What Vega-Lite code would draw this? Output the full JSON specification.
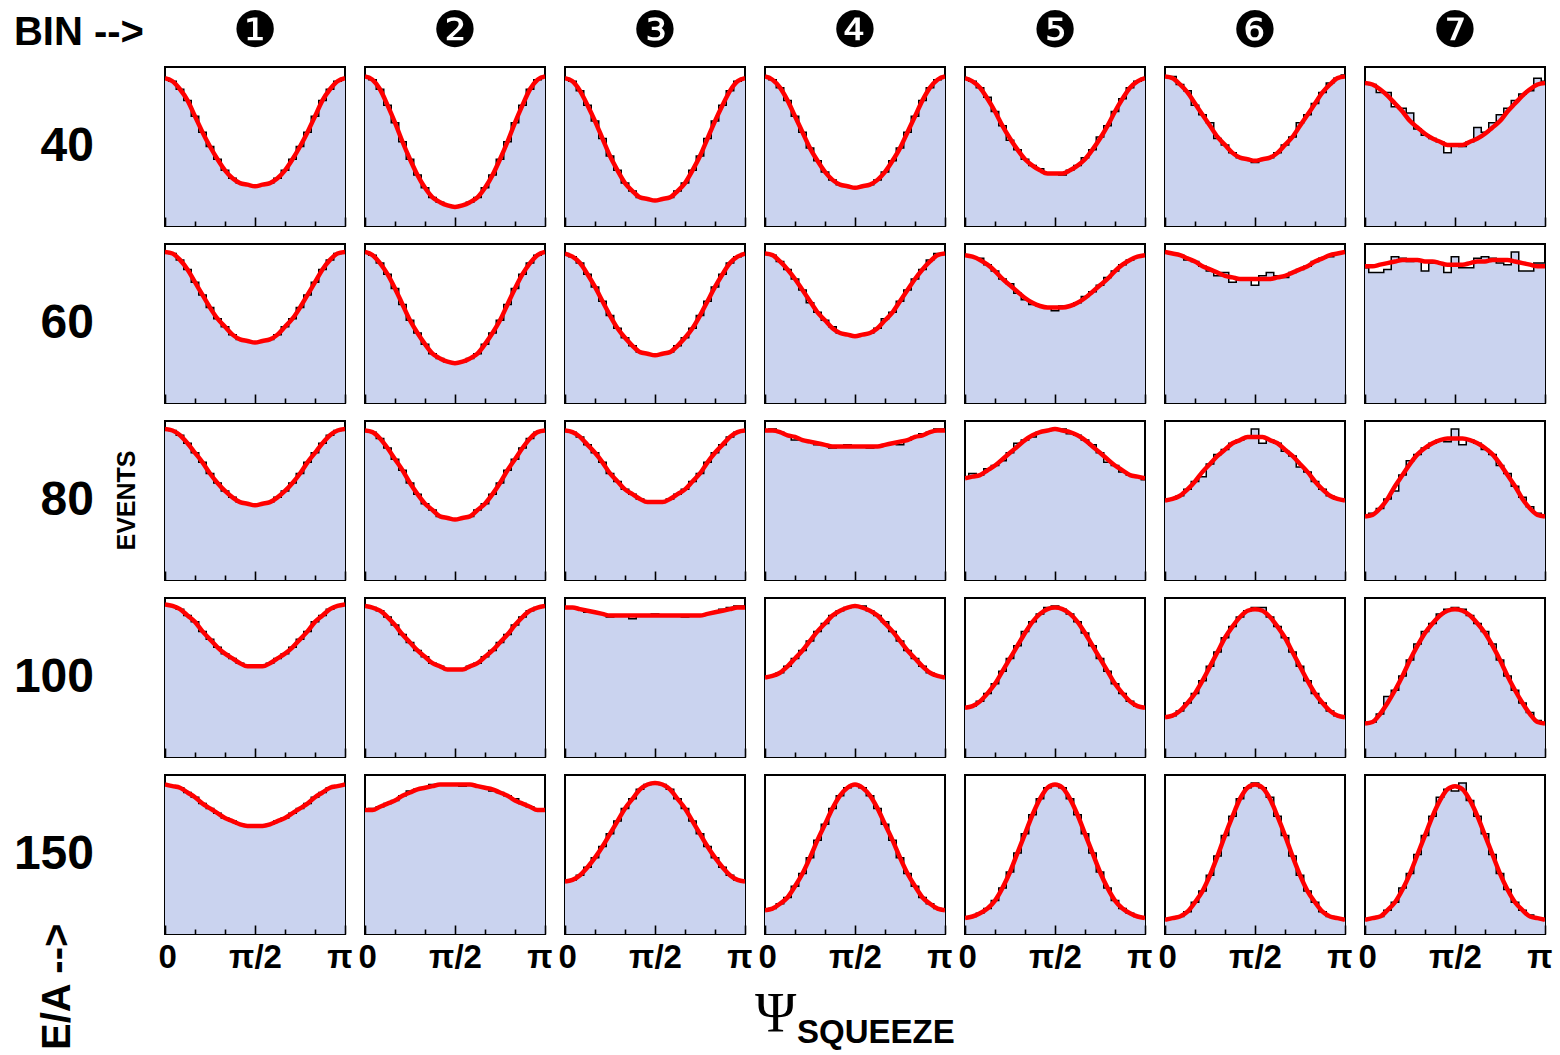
{
  "$schema": "https://vega.github.io/schema/vega-lite/v6.json",
  "background": "white",
  "padding": {"left": 13, "top": 7, "right": 6, "bottom": 4},
  "config": {
    "view": {"stroke": "black", "strokeWidth": 2},
    "font": "Liberation Sans",
    "title": {"color": "black"}
  },
  "data": {"values": [
{"e":40,"b":1,"i":0,"h":93,"f":93},{"e":40,"b":1,"i":1,"h":91,"f":91},{"e":40,"b":1,"i":2,"h":86,"f":86},{"e":40,"b":1,"i":3,"h":79,"f":79},{"e":40,"b":1,"i":4,"h":69,"f":69},{"e":40,"b":1,"i":5,"h":59,"f":59},{"e":40,"b":1,"i":6,"h":50,"f":50},{"e":40,"b":1,"i":7,"h":42,"f":42},{"e":40,"b":1,"i":8,"h":35,"f":35},{"e":40,"b":1,"i":9,"h":30,"f":30},{"e":40,"b":1,"i":10,"h":27,"f":27},{"e":40,"b":1,"i":11,"h":26,"f":26},{"e":40,"b":1,"i":12,"h":25,"f":25},{"e":40,"b":1,"i":13,"h":26,"f":26},{"e":40,"b":1,"i":14,"h":27,"f":27},{"e":40,"b":1,"i":15,"h":30,"f":30},{"e":40,"b":1,"i":16,"h":35,"f":35},{"e":40,"b":1,"i":17,"h":42,"f":42},{"e":40,"b":1,"i":18,"h":50,"f":50},{"e":40,"b":1,"i":19,"h":59,"f":59},{"e":40,"b":1,"i":20,"h":69,"f":69},{"e":40,"b":1,"i":21,"h":79,"f":79},{"e":40,"b":1,"i":22,"h":86,"f":86},{"e":40,"b":1,"i":23,"h":91,"f":91},{"e":40,"b":1,"i":24,"h":93,"f":93},
{"e":40,"b":2,"i":0,"h":94,"f":94},{"e":40,"b":2,"i":1,"h":92,"f":92},{"e":40,"b":2,"i":2,"h":86,"f":86},{"e":40,"b":2,"i":3,"h":76,"f":76},{"e":40,"b":2,"i":4,"h":65,"f":65},{"e":40,"b":2,"i":5,"h":53,"f":53},{"e":40,"b":2,"i":6,"h":42,"f":42},{"e":40,"b":2,"i":7,"h":32,"f":32},{"e":40,"b":2,"i":8,"h":24,"f":24},{"e":40,"b":2,"i":9,"h":18,"f":18},{"e":40,"b":2,"i":10,"h":15,"f":15},{"e":40,"b":2,"i":11,"h":13,"f":13},{"e":40,"b":2,"i":12,"h":12,"f":12},{"e":40,"b":2,"i":13,"h":13,"f":13},{"e":40,"b":2,"i":14,"h":15,"f":15},{"e":40,"b":2,"i":15,"h":18,"f":18},{"e":40,"b":2,"i":16,"h":24,"f":24},{"e":40,"b":2,"i":17,"h":32,"f":32},{"e":40,"b":2,"i":18,"h":42,"f":42},{"e":40,"b":2,"i":19,"h":53,"f":53},{"e":40,"b":2,"i":20,"h":65,"f":65},{"e":40,"b":2,"i":21,"h":76,"f":76},{"e":40,"b":2,"i":22,"h":86,"f":86},{"e":40,"b":2,"i":23,"h":92,"f":92},{"e":40,"b":2,"i":24,"h":94,"f":94},
{"e":40,"b":3,"i":0,"h":93,"f":93},{"e":40,"b":3,"i":1,"h":91,"f":91},{"e":40,"b":3,"i":2,"h":85,"f":85},{"e":40,"b":3,"i":3,"h":76,"f":76},{"e":40,"b":3,"i":4,"h":66,"f":66},{"e":40,"b":3,"i":5,"h":55,"f":55},{"e":40,"b":3,"i":6,"h":44,"f":44},{"e":40,"b":3,"i":7,"h":35,"f":35},{"e":40,"b":3,"i":8,"h":27,"f":27},{"e":40,"b":3,"i":9,"h":22,"f":22},{"e":40,"b":3,"i":10,"h":18,"f":18},{"e":40,"b":3,"i":11,"h":17,"f":17},{"e":40,"b":3,"i":12,"h":16,"f":16},{"e":40,"b":3,"i":13,"h":17,"f":17},{"e":40,"b":3,"i":14,"h":18,"f":18},{"e":40,"b":3,"i":15,"h":22,"f":22},{"e":40,"b":3,"i":16,"h":27,"f":27},{"e":40,"b":3,"i":17,"h":35,"f":35},{"e":40,"b":3,"i":18,"h":44,"f":44},{"e":40,"b":3,"i":19,"h":55,"f":55},{"e":40,"b":3,"i":20,"h":66,"f":66},{"e":40,"b":3,"i":21,"h":76,"f":76},{"e":40,"b":3,"i":22,"h":85,"f":85},{"e":40,"b":3,"i":23,"h":91,"f":91},{"e":40,"b":3,"i":24,"h":93,"f":93},
{"e":40,"b":4,"i":0,"h":94,"f":94},{"e":40,"b":4,"i":1,"h":92,"f":92},{"e":40,"b":4,"i":2,"h":87,"f":87},{"e":40,"b":4,"i":3,"h":79,"f":79},{"e":40,"b":4,"i":4,"h":69,"f":69},{"e":40,"b":4,"i":5,"h":59,"f":59},{"e":40,"b":4,"i":6,"h":49,"f":49},{"e":40,"b":4,"i":7,"h":41,"f":41},{"e":40,"b":4,"i":8,"h":34,"f":34},{"e":40,"b":4,"i":9,"h":29,"f":29},{"e":40,"b":4,"i":10,"h":26,"f":26},{"e":40,"b":4,"i":11,"h":25,"f":25},{"e":40,"b":4,"i":12,"h":24,"f":24},{"e":40,"b":4,"i":13,"h":25,"f":25},{"e":40,"b":4,"i":14,"h":26,"f":26},{"e":40,"b":4,"i":15,"h":29,"f":29},{"e":40,"b":4,"i":16,"h":34,"f":34},{"e":40,"b":4,"i":17,"h":41,"f":41},{"e":40,"b":4,"i":18,"h":49,"f":49},{"e":40,"b":4,"i":19,"h":59,"f":59},{"e":40,"b":4,"i":20,"h":69,"f":69},{"e":40,"b":4,"i":21,"h":79,"f":79},{"e":40,"b":4,"i":22,"h":87,"f":87},{"e":40,"b":4,"i":23,"h":92,"f":92},{"e":40,"b":4,"i":24,"h":94,"f":94},
{"e":40,"b":5,"i":0,"h":93,"f":93},{"e":40,"b":5,"i":1,"h":91,"f":91},{"e":40,"b":5,"i":2,"h":87,"f":87},{"e":40,"b":5,"i":3,"h":81,"f":80},{"e":40,"b":5,"i":4,"h":72,"f":72},{"e":40,"b":5,"i":5,"h":63,"f":63},{"e":40,"b":5,"i":6,"h":54,"f":55},{"e":40,"b":5,"i":7,"h":48,"f":48},{"e":40,"b":5,"i":8,"h":42,"f":42},{"e":40,"b":5,"i":9,"h":38,"f":38},{"e":40,"b":5,"i":10,"h":36,"f":35},{"e":40,"b":5,"i":11,"h":33,"f":33},{"e":40,"b":5,"i":12,"h":33,"f":33},{"e":40,"b":5,"i":13,"h":32,"f":33},{"e":40,"b":5,"i":14,"h":35,"f":35},{"e":40,"b":5,"i":15,"h":38,"f":38},{"e":40,"b":5,"i":16,"h":43,"f":42},{"e":40,"b":5,"i":17,"h":48,"f":48},{"e":40,"b":5,"i":18,"h":56,"f":55},{"e":40,"b":5,"i":19,"h":63,"f":63},{"e":40,"b":5,"i":20,"h":72,"f":72},{"e":40,"b":5,"i":21,"h":80,"f":80},{"e":40,"b":5,"i":22,"h":87,"f":87},{"e":40,"b":5,"i":23,"h":91,"f":91},{"e":40,"b":5,"i":24,"h":93,"f":93},
{"e":40,"b":6,"i":0,"h":94,"f":94},{"e":40,"b":6,"i":1,"h":94,"f":93},{"e":40,"b":6,"i":2,"h":89,"f":89},{"e":40,"b":6,"i":3,"h":85,"f":84},{"e":40,"b":6,"i":4,"h":76,"f":77},{"e":40,"b":6,"i":5,"h":70,"f":70},{"e":40,"b":6,"i":6,"h":65,"f":63},{"e":40,"b":6,"i":7,"h":55,"f":56},{"e":40,"b":6,"i":8,"h":51,"f":51},{"e":40,"b":6,"i":9,"h":46,"f":46},{"e":40,"b":6,"i":10,"h":43,"f":43},{"e":40,"b":6,"i":11,"h":42,"f":42},{"e":40,"b":6,"i":12,"h":40,"f":41},{"e":40,"b":6,"i":13,"h":42,"f":42},{"e":40,"b":6,"i":14,"h":43,"f":43},{"e":40,"b":6,"i":15,"h":46,"f":46},{"e":40,"b":6,"i":16,"h":51,"f":51},{"e":40,"b":6,"i":17,"h":56,"f":56},{"e":40,"b":6,"i":18,"h":65,"f":63},{"e":40,"b":6,"i":19,"h":70,"f":70},{"e":40,"b":6,"i":20,"h":77,"f":77},{"e":40,"b":6,"i":21,"h":84,"f":84},{"e":40,"b":6,"i":22,"h":90,"f":89},{"e":40,"b":6,"i":23,"h":93,"f":93},{"e":40,"b":6,"i":24,"h":95,"f":94},
{"e":40,"b":7,"i":0,"h":90,"f":90},{"e":40,"b":7,"i":1,"h":89,"f":89},{"e":40,"b":7,"i":2,"h":84,"f":86},{"e":40,"b":7,"i":3,"h":84,"f":82},{"e":40,"b":7,"i":4,"h":75,"f":77},{"e":40,"b":7,"i":5,"h":74,"f":72},{"e":40,"b":7,"i":6,"h":71,"f":66},{"e":40,"b":7,"i":7,"h":61,"f":62},{"e":40,"b":7,"i":8,"h":57,"f":58},{"e":40,"b":7,"i":9,"h":55,"f":55},{"e":40,"b":7,"i":10,"h":53,"f":53},{"e":40,"b":7,"i":11,"h":46,"f":51},{"e":40,"b":7,"i":12,"h":51,"f":51},{"e":40,"b":7,"i":13,"h":50,"f":51},{"e":40,"b":7,"i":14,"h":53,"f":53},{"e":40,"b":7,"i":15,"h":62,"f":55},{"e":40,"b":7,"i":16,"h":59,"f":58},{"e":40,"b":7,"i":17,"h":65,"f":62},{"e":40,"b":7,"i":18,"h":70,"f":66},{"e":40,"b":7,"i":19,"h":74,"f":72},{"e":40,"b":7,"i":20,"h":79,"f":77},{"e":40,"b":7,"i":21,"h":83,"f":82},{"e":40,"b":7,"i":22,"h":85,"f":86},{"e":40,"b":7,"i":23,"h":93,"f":89},{"e":40,"b":7,"i":24,"h":91,"f":90},
{"e":60,"b":1,"i":0,"h":95,"f":95},{"e":60,"b":1,"i":1,"h":94,"f":94},{"e":60,"b":1,"i":2,"h":90,"f":90},{"e":60,"b":1,"i":3,"h":84,"f":84},{"e":60,"b":1,"i":4,"h":76,"f":76},{"e":60,"b":1,"i":5,"h":68,"f":68},{"e":60,"b":1,"i":6,"h":60,"f":60},{"e":60,"b":1,"i":7,"h":53,"f":53},{"e":60,"b":1,"i":8,"h":48,"f":48},{"e":60,"b":1,"i":9,"h":43,"f":43},{"e":60,"b":1,"i":10,"h":40,"f":40},{"e":60,"b":1,"i":11,"h":39,"f":39},{"e":60,"b":1,"i":12,"h":38,"f":38},{"e":60,"b":1,"i":13,"h":39,"f":39},{"e":60,"b":1,"i":14,"h":40,"f":40},{"e":60,"b":1,"i":15,"h":43,"f":43},{"e":60,"b":1,"i":16,"h":48,"f":48},{"e":60,"b":1,"i":17,"h":53,"f":53},{"e":60,"b":1,"i":18,"h":60,"f":60},{"e":60,"b":1,"i":19,"h":68,"f":68},{"e":60,"b":1,"i":20,"h":76,"f":76},{"e":60,"b":1,"i":21,"h":84,"f":84},{"e":60,"b":1,"i":22,"h":90,"f":90},{"e":60,"b":1,"i":23,"h":94,"f":94},{"e":60,"b":1,"i":24,"h":95,"f":95},
{"e":60,"b":2,"i":0,"h":95,"f":95},{"e":60,"b":2,"i":1,"h":93,"f":93},{"e":60,"b":2,"i":2,"h":88,"f":88},{"e":60,"b":2,"i":3,"h":81,"f":81},{"e":60,"b":2,"i":4,"h":72,"f":72},{"e":60,"b":2,"i":5,"h":62,"f":62},{"e":60,"b":2,"i":6,"h":52,"f":52},{"e":60,"b":2,"i":7,"h":44,"f":44},{"e":60,"b":2,"i":8,"h":37,"f":37},{"e":60,"b":2,"i":9,"h":31,"f":31},{"e":60,"b":2,"i":10,"h":28,"f":28},{"e":60,"b":2,"i":11,"h":26,"f":26},{"e":60,"b":2,"i":12,"h":25,"f":25},{"e":60,"b":2,"i":13,"h":26,"f":26},{"e":60,"b":2,"i":14,"h":28,"f":28},{"e":60,"b":2,"i":15,"h":31,"f":31},{"e":60,"b":2,"i":16,"h":37,"f":37},{"e":60,"b":2,"i":17,"h":44,"f":44},{"e":60,"b":2,"i":18,"h":52,"f":52},{"e":60,"b":2,"i":19,"h":62,"f":62},{"e":60,"b":2,"i":20,"h":72,"f":72},{"e":60,"b":2,"i":21,"h":81,"f":81},{"e":60,"b":2,"i":22,"h":88,"f":88},{"e":60,"b":2,"i":23,"h":93,"f":93},{"e":60,"b":2,"i":24,"h":95,"f":95},
{"e":60,"b":3,"i":0,"h":94,"f":94},{"e":60,"b":3,"i":1,"h":92,"f":92},{"e":60,"b":3,"i":2,"h":88,"f":88},{"e":60,"b":3,"i":3,"h":81,"f":81},{"e":60,"b":3,"i":4,"h":73,"f":73},{"e":60,"b":3,"i":5,"h":64,"f":64},{"e":60,"b":3,"i":6,"h":55,"f":55},{"e":60,"b":3,"i":7,"h":47,"f":47},{"e":60,"b":3,"i":8,"h":41,"f":41},{"e":60,"b":3,"i":9,"h":36,"f":36},{"e":60,"b":3,"i":10,"h":32,"f":32},{"e":60,"b":3,"i":11,"h":31,"f":31},{"e":60,"b":3,"i":12,"h":30,"f":30},{"e":60,"b":3,"i":13,"h":31,"f":31},{"e":60,"b":3,"i":14,"h":32,"f":32},{"e":60,"b":3,"i":15,"h":36,"f":36},{"e":60,"b":3,"i":16,"h":41,"f":41},{"e":60,"b":3,"i":17,"h":47,"f":47},{"e":60,"b":3,"i":18,"h":55,"f":55},{"e":60,"b":3,"i":19,"h":64,"f":64},{"e":60,"b":3,"i":20,"h":73,"f":73},{"e":60,"b":3,"i":21,"h":81,"f":81},{"e":60,"b":3,"i":22,"h":88,"f":88},{"e":60,"b":3,"i":23,"h":92,"f":92},{"e":60,"b":3,"i":24,"h":94,"f":94},
{"e":60,"b":4,"i":0,"h":94,"f":94},{"e":60,"b":4,"i":1,"h":93,"f":93},{"e":60,"b":4,"i":2,"h":89,"f":89},{"e":60,"b":4,"i":3,"h":84,"f":84},{"e":60,"b":4,"i":4,"h":78,"f":78},{"e":60,"b":4,"i":5,"h":71,"f":71},{"e":60,"b":4,"i":6,"h":63,"f":64},{"e":60,"b":4,"i":7,"h":57,"f":57},{"e":60,"b":4,"i":8,"h":52,"f":52},{"e":60,"b":4,"i":9,"h":48,"f":47},{"e":60,"b":4,"i":10,"h":44,"f":44},{"e":60,"b":4,"i":11,"h":43,"f":43},{"e":60,"b":4,"i":12,"h":42,"f":42},{"e":60,"b":4,"i":13,"h":43,"f":43},{"e":60,"b":4,"i":14,"h":44,"f":44},{"e":60,"b":4,"i":15,"h":47,"f":47},{"e":60,"b":4,"i":16,"h":53,"f":52},{"e":60,"b":4,"i":17,"h":57,"f":57},{"e":60,"b":4,"i":18,"h":64,"f":64},{"e":60,"b":4,"i":19,"h":71,"f":71},{"e":60,"b":4,"i":20,"h":78,"f":78},{"e":60,"b":4,"i":21,"h":84,"f":84},{"e":60,"b":4,"i":22,"h":90,"f":89},{"e":60,"b":4,"i":23,"h":94,"f":93},{"e":60,"b":4,"i":24,"h":94,"f":94},
{"e":60,"b":5,"i":0,"h":93,"f":93},{"e":60,"b":5,"i":1,"h":92,"f":92},{"e":60,"b":5,"i":2,"h":91,"f":90},{"e":60,"b":5,"i":3,"h":87,"f":87},{"e":60,"b":5,"i":4,"h":83,"f":83},{"e":60,"b":5,"i":5,"h":78,"f":78},{"e":60,"b":5,"i":6,"h":75,"f":74},{"e":60,"b":5,"i":7,"h":69,"f":70},{"e":60,"b":5,"i":8,"h":65,"f":66},{"e":60,"b":5,"i":9,"h":62,"f":63},{"e":60,"b":5,"i":10,"h":61,"f":61},{"e":60,"b":5,"i":11,"h":60,"f":60},{"e":60,"b":5,"i":12,"h":58,"f":60},{"e":60,"b":5,"i":13,"h":61,"f":60},{"e":60,"b":5,"i":14,"h":61,"f":61},{"e":60,"b":5,"i":15,"h":63,"f":63},{"e":60,"b":5,"i":16,"h":67,"f":66},{"e":60,"b":5,"i":17,"h":70,"f":70},{"e":60,"b":5,"i":18,"h":74,"f":74},{"e":60,"b":5,"i":19,"h":79,"f":78},{"e":60,"b":5,"i":20,"h":83,"f":83},{"e":60,"b":5,"i":21,"h":87,"f":87},{"e":60,"b":5,"i":22,"h":90,"f":90},{"e":60,"b":5,"i":23,"h":92,"f":92},{"e":60,"b":5,"i":24,"h":93,"f":93},
{"e":60,"b":6,"i":0,"h":95,"f":95},{"e":60,"b":6,"i":1,"h":94,"f":94},{"e":60,"b":6,"i":2,"h":93,"f":93},{"e":60,"b":6,"i":3,"h":90,"f":91},{"e":60,"b":6,"i":4,"h":89,"f":89},{"e":60,"b":6,"i":5,"h":86,"f":86},{"e":60,"b":6,"i":6,"h":83,"f":84},{"e":60,"b":6,"i":7,"h":80,"f":82},{"e":60,"b":6,"i":8,"h":82,"f":80},{"e":60,"b":6,"i":9,"h":76,"f":79},{"e":60,"b":6,"i":10,"h":78,"f":78},{"e":60,"b":6,"i":11,"h":78,"f":78},{"e":60,"b":6,"i":12,"h":74,"f":78},{"e":60,"b":6,"i":13,"h":80,"f":78},{"e":60,"b":6,"i":14,"h":82,"f":78},{"e":60,"b":6,"i":15,"h":80,"f":79},{"e":60,"b":6,"i":16,"h":79,"f":80},{"e":60,"b":6,"i":17,"h":82,"f":82},{"e":60,"b":6,"i":18,"h":84,"f":84},{"e":60,"b":6,"i":19,"h":86,"f":86},{"e":60,"b":6,"i":20,"h":89,"f":89},{"e":60,"b":6,"i":21,"h":91,"f":91},{"e":60,"b":6,"i":22,"h":92,"f":93},{"e":60,"b":6,"i":23,"h":94,"f":94},{"e":60,"b":6,"i":24,"h":95,"f":95},
{"e":60,"b":7,"i":0,"h":85,"f":86},{"e":60,"b":7,"i":1,"h":82,"f":86},{"e":60,"b":7,"i":2,"h":82,"f":87},{"e":60,"b":7,"i":3,"h":84,"f":88},{"e":60,"b":7,"i":4,"h":92,"f":89},{"e":60,"b":7,"i":5,"h":91,"f":90},{"e":60,"b":7,"i":6,"h":89,"f":90},{"e":60,"b":7,"i":7,"h":90,"f":90},{"e":60,"b":7,"i":8,"h":83,"f":89},{"e":60,"b":7,"i":9,"h":88,"f":89},{"e":60,"b":7,"i":10,"h":88,"f":88},{"e":60,"b":7,"i":11,"h":82,"f":87},{"e":60,"b":7,"i":12,"h":92,"f":87},{"e":60,"b":7,"i":13,"h":85,"f":87},{"e":60,"b":7,"i":14,"h":85,"f":88},{"e":60,"b":7,"i":15,"h":91,"f":89},{"e":60,"b":7,"i":16,"h":92,"f":89},{"e":60,"b":7,"i":17,"h":91,"f":90},{"e":60,"b":7,"i":18,"h":88,"f":90},{"e":60,"b":7,"i":19,"h":87,"f":90},{"e":60,"b":7,"i":20,"h":95,"f":89},{"e":60,"b":7,"i":21,"h":83,"f":88},{"e":60,"b":7,"i":22,"h":83,"f":87},{"e":60,"b":7,"i":23,"h":88,"f":86},{"e":60,"b":7,"i":24,"h":88,"f":86},
{"e":80,"b":1,"i":0,"h":95,"f":95},{"e":80,"b":1,"i":1,"h":94,"f":94},{"e":80,"b":1,"i":2,"h":91,"f":91},{"e":80,"b":1,"i":3,"h":86,"f":86},{"e":80,"b":1,"i":4,"h":80,"f":80},{"e":80,"b":1,"i":5,"h":74,"f":74},{"e":80,"b":1,"i":6,"h":67,"f":67},{"e":80,"b":1,"i":7,"h":61,"f":61},{"e":80,"b":1,"i":8,"h":56,"f":56},{"e":80,"b":1,"i":9,"h":52,"f":52},{"e":80,"b":1,"i":10,"h":49,"f":49},{"e":80,"b":1,"i":11,"h":48,"f":48},{"e":80,"b":1,"i":12,"h":47,"f":47},{"e":80,"b":1,"i":13,"h":48,"f":48},{"e":80,"b":1,"i":14,"h":49,"f":49},{"e":80,"b":1,"i":15,"h":52,"f":52},{"e":80,"b":1,"i":16,"h":56,"f":56},{"e":80,"b":1,"i":17,"h":61,"f":61},{"e":80,"b":1,"i":18,"h":67,"f":67},{"e":80,"b":1,"i":19,"h":74,"f":74},{"e":80,"b":1,"i":20,"h":80,"f":80},{"e":80,"b":1,"i":21,"h":86,"f":86},{"e":80,"b":1,"i":22,"h":91,"f":91},{"e":80,"b":1,"i":23,"h":94,"f":94},{"e":80,"b":1,"i":24,"h":95,"f":95},
{"e":80,"b":2,"i":0,"h":94,"f":94},{"e":80,"b":2,"i":1,"h":93,"f":93},{"e":80,"b":2,"i":2,"h":89,"f":89},{"e":80,"b":2,"i":3,"h":83,"f":83},{"e":80,"b":2,"i":4,"h":76,"f":76},{"e":80,"b":2,"i":5,"h":69,"f":69},{"e":80,"b":2,"i":6,"h":61,"f":61},{"e":80,"b":2,"i":7,"h":54,"f":54},{"e":80,"b":2,"i":8,"h":48,"f":48},{"e":80,"b":2,"i":9,"h":44,"f":44},{"e":80,"b":2,"i":10,"h":40,"f":40},{"e":80,"b":2,"i":11,"h":39,"f":39},{"e":80,"b":2,"i":12,"h":38,"f":38},{"e":80,"b":2,"i":13,"h":39,"f":39},{"e":80,"b":2,"i":14,"h":40,"f":40},{"e":80,"b":2,"i":15,"h":44,"f":44},{"e":80,"b":2,"i":16,"h":48,"f":48},{"e":80,"b":2,"i":17,"h":54,"f":54},{"e":80,"b":2,"i":18,"h":61,"f":61},{"e":80,"b":2,"i":19,"h":69,"f":69},{"e":80,"b":2,"i":20,"h":76,"f":76},{"e":80,"b":2,"i":21,"h":83,"f":83},{"e":80,"b":2,"i":22,"h":89,"f":89},{"e":80,"b":2,"i":23,"h":93,"f":93},{"e":80,"b":2,"i":24,"h":94,"f":94},
{"e":80,"b":3,"i":0,"h":94,"f":94},{"e":80,"b":3,"i":1,"h":93,"f":93},{"e":80,"b":3,"i":2,"h":90,"f":90},{"e":80,"b":3,"i":3,"h":85,"f":85},{"e":80,"b":3,"i":4,"h":80,"f":80},{"e":80,"b":3,"i":5,"h":74,"f":74},{"e":80,"b":3,"i":6,"h":67,"f":67},{"e":80,"b":3,"i":7,"h":62,"f":62},{"e":80,"b":3,"i":8,"h":57,"f":57},{"e":80,"b":3,"i":9,"h":54,"f":54},{"e":80,"b":3,"i":10,"h":51,"f":51},{"e":80,"b":3,"i":11,"h":49,"f":49},{"e":80,"b":3,"i":12,"h":49,"f":49},{"e":80,"b":3,"i":13,"h":49,"f":49},{"e":80,"b":3,"i":14,"h":51,"f":51},{"e":80,"b":3,"i":15,"h":54,"f":54},{"e":80,"b":3,"i":16,"h":57,"f":57},{"e":80,"b":3,"i":17,"h":62,"f":62},{"e":80,"b":3,"i":18,"h":67,"f":67},{"e":80,"b":3,"i":19,"h":74,"f":74},{"e":80,"b":3,"i":20,"h":80,"f":80},{"e":80,"b":3,"i":21,"h":85,"f":85},{"e":80,"b":3,"i":22,"h":90,"f":90},{"e":80,"b":3,"i":23,"h":93,"f":93},{"e":80,"b":3,"i":24,"h":94,"f":94},
{"e":80,"b":4,"i":0,"h":94,"f":94},{"e":80,"b":4,"i":1,"h":95,"f":94},{"e":80,"b":4,"i":2,"h":93,"f":93},{"e":80,"b":4,"i":3,"h":91,"f":91},{"e":80,"b":4,"i":4,"h":88,"f":90},{"e":80,"b":4,"i":5,"h":88,"f":88},{"e":80,"b":4,"i":6,"h":87,"f":87},{"e":80,"b":4,"i":7,"h":85,"f":86},{"e":80,"b":4,"i":8,"h":85,"f":85},{"e":80,"b":4,"i":9,"h":83,"f":84},{"e":80,"b":4,"i":10,"h":84,"f":84},{"e":80,"b":4,"i":11,"h":85,"f":84},{"e":80,"b":4,"i":12,"h":84,"f":84},{"e":80,"b":4,"i":13,"h":84,"f":84},{"e":80,"b":4,"i":14,"h":83,"f":84},{"e":80,"b":4,"i":15,"h":84,"f":84},{"e":80,"b":4,"i":16,"h":85,"f":85},{"e":80,"b":4,"i":17,"h":86,"f":86},{"e":80,"b":4,"i":18,"h":85,"f":87},{"e":80,"b":4,"i":19,"h":88,"f":88},{"e":80,"b":4,"i":20,"h":90,"f":90},{"e":80,"b":4,"i":21,"h":92,"f":91},{"e":80,"b":4,"i":22,"h":93,"f":93},{"e":80,"b":4,"i":23,"h":95,"f":94},{"e":80,"b":4,"i":24,"h":95,"f":94},
{"e":80,"b":5,"i":0,"h":64,"f":64},{"e":80,"b":5,"i":1,"h":67,"f":65},{"e":80,"b":5,"i":2,"h":66,"f":66},{"e":80,"b":5,"i":3,"h":70,"f":69},{"e":80,"b":5,"i":4,"h":72,"f":72},{"e":80,"b":5,"i":5,"h":75,"f":76},{"e":80,"b":5,"i":6,"h":80,"f":80},{"e":80,"b":5,"i":7,"h":86,"f":84},{"e":80,"b":5,"i":8,"h":88,"f":88},{"e":80,"b":5,"i":9,"h":90,"f":91},{"e":80,"b":5,"i":10,"h":93,"f":93},{"e":80,"b":5,"i":11,"h":94,"f":94},{"e":80,"b":5,"i":12,"h":95,"f":95},{"e":80,"b":5,"i":13,"h":95,"f":94},{"e":80,"b":5,"i":14,"h":92,"f":93},{"e":80,"b":5,"i":15,"h":91,"f":91},{"e":80,"b":5,"i":16,"h":88,"f":88},{"e":80,"b":5,"i":17,"h":85,"f":84},{"e":80,"b":5,"i":18,"h":80,"f":80},{"e":80,"b":5,"i":19,"h":74,"f":76},{"e":80,"b":5,"i":20,"h":72,"f":72},{"e":80,"b":5,"i":21,"h":68,"f":69},{"e":80,"b":5,"i":22,"h":66,"f":66},{"e":80,"b":5,"i":23,"h":65,"f":65},{"e":80,"b":5,"i":24,"h":63,"f":64},
{"e":80,"b":6,"i":0,"h":50,"f":50},{"e":80,"b":6,"i":1,"h":51,"f":51},{"e":80,"b":6,"i":2,"h":53,"f":53},{"e":80,"b":6,"i":3,"h":57,"f":57},{"e":80,"b":6,"i":4,"h":62,"f":62},{"e":80,"b":6,"i":5,"h":65,"f":68},{"e":80,"b":6,"i":6,"h":73,"f":73},{"e":80,"b":6,"i":7,"h":79,"f":78},{"e":80,"b":6,"i":8,"h":82,"f":82},{"e":80,"b":6,"i":9,"h":86,"f":86},{"e":80,"b":6,"i":10,"h":88,"f":88},{"e":80,"b":6,"i":11,"h":90,"f":90},{"e":80,"b":6,"i":12,"h":95,"f":90},{"e":80,"b":6,"i":13,"h":86,"f":90},{"e":80,"b":6,"i":14,"h":88,"f":88},{"e":80,"b":6,"i":15,"h":86,"f":86},{"e":80,"b":6,"i":16,"h":81,"f":82},{"e":80,"b":6,"i":17,"h":78,"f":78},{"e":80,"b":6,"i":18,"h":71,"f":73},{"e":80,"b":6,"i":19,"h":68,"f":68},{"e":80,"b":6,"i":20,"h":62,"f":62},{"e":80,"b":6,"i":21,"h":57,"f":57},{"e":80,"b":6,"i":22,"h":53,"f":53},{"e":80,"b":6,"i":23,"h":51,"f":51},{"e":80,"b":6,"i":24,"h":50,"f":50},
{"e":80,"b":7,"i":0,"h":40,"f":40},{"e":80,"b":7,"i":1,"h":42,"f":41},{"e":80,"b":7,"i":2,"h":45,"f":45},{"e":80,"b":7,"i":3,"h":51,"f":51},{"e":80,"b":7,"i":4,"h":56,"f":59},{"e":80,"b":7,"i":5,"h":66,"f":66},{"e":80,"b":7,"i":6,"h":75,"f":73},{"e":80,"b":7,"i":7,"h":79,"f":79},{"e":80,"b":7,"i":8,"h":83,"f":83},{"e":80,"b":7,"i":9,"h":86,"f":86},{"e":80,"b":7,"i":10,"h":88,"f":88},{"e":80,"b":7,"i":11,"h":87,"f":89},{"e":80,"b":7,"i":12,"h":95,"f":89},{"e":80,"b":7,"i":13,"h":85,"f":89},{"e":80,"b":7,"i":14,"h":88,"f":88},{"e":80,"b":7,"i":15,"h":86,"f":86},{"e":80,"b":7,"i":16,"h":82,"f":83},{"e":80,"b":7,"i":17,"h":79,"f":79},{"e":80,"b":7,"i":18,"h":72,"f":73},{"e":80,"b":7,"i":19,"h":67,"f":66},{"e":80,"b":7,"i":20,"h":59,"f":59},{"e":80,"b":7,"i":21,"h":52,"f":51},{"e":80,"b":7,"i":22,"h":46,"f":45},{"e":80,"b":7,"i":23,"h":42,"f":41},{"e":80,"b":7,"i":24,"h":40,"f":40},
{"e":100,"b":1,"i":0,"h":96,"f":96},{"e":100,"b":1,"i":1,"h":95,"f":95},{"e":100,"b":1,"i":2,"h":93,"f":93},{"e":100,"b":1,"i":3,"h":89,"f":89},{"e":100,"b":1,"i":4,"h":85,"f":85},{"e":100,"b":1,"i":5,"h":79,"f":79},{"e":100,"b":1,"i":6,"h":74,"f":74},{"e":100,"b":1,"i":7,"h":69,"f":69},{"e":100,"b":1,"i":8,"h":65,"f":65},{"e":100,"b":1,"i":9,"h":62,"f":62},{"e":100,"b":1,"i":10,"h":59,"f":59},{"e":100,"b":1,"i":11,"h":57,"f":57},{"e":100,"b":1,"i":12,"h":57,"f":57},{"e":100,"b":1,"i":13,"h":57,"f":57},{"e":100,"b":1,"i":14,"h":59,"f":59},{"e":100,"b":1,"i":15,"h":62,"f":62},{"e":100,"b":1,"i":16,"h":65,"f":65},{"e":100,"b":1,"i":17,"h":69,"f":69},{"e":100,"b":1,"i":18,"h":74,"f":74},{"e":100,"b":1,"i":19,"h":79,"f":79},{"e":100,"b":1,"i":20,"h":85,"f":85},{"e":100,"b":1,"i":21,"h":89,"f":89},{"e":100,"b":1,"i":22,"h":93,"f":93},{"e":100,"b":1,"i":23,"h":95,"f":95},{"e":100,"b":1,"i":24,"h":96,"f":96},
{"e":100,"b":2,"i":0,"h":95,"f":95},{"e":100,"b":2,"i":1,"h":94,"f":94},{"e":100,"b":2,"i":2,"h":92,"f":92},{"e":100,"b":2,"i":3,"h":88,"f":88},{"e":100,"b":2,"i":4,"h":83,"f":83},{"e":100,"b":2,"i":5,"h":77,"f":77},{"e":100,"b":2,"i":6,"h":72,"f":72},{"e":100,"b":2,"i":7,"h":67,"f":67},{"e":100,"b":2,"i":8,"h":63,"f":63},{"e":100,"b":2,"i":9,"h":59,"f":59},{"e":100,"b":2,"i":10,"h":57,"f":57},{"e":100,"b":2,"i":11,"h":55,"f":55},{"e":100,"b":2,"i":12,"h":55,"f":55},{"e":100,"b":2,"i":13,"h":55,"f":55},{"e":100,"b":2,"i":14,"h":57,"f":57},{"e":100,"b":2,"i":15,"h":59,"f":59},{"e":100,"b":2,"i":16,"h":63,"f":63},{"e":100,"b":2,"i":17,"h":67,"f":67},{"e":100,"b":2,"i":18,"h":72,"f":72},{"e":100,"b":2,"i":19,"h":77,"f":77},{"e":100,"b":2,"i":20,"h":83,"f":83},{"e":100,"b":2,"i":21,"h":88,"f":88},{"e":100,"b":2,"i":22,"h":92,"f":92},{"e":100,"b":2,"i":23,"h":94,"f":94},{"e":100,"b":2,"i":24,"h":95,"f":95},
{"e":100,"b":3,"i":0,"h":94,"f":94},{"e":100,"b":3,"i":1,"h":94,"f":94},{"e":100,"b":3,"i":2,"h":93,"f":93},{"e":100,"b":3,"i":3,"h":91,"f":92},{"e":100,"b":3,"i":4,"h":91,"f":91},{"e":100,"b":3,"i":5,"h":90,"f":90},{"e":100,"b":3,"i":6,"h":88,"f":89},{"e":100,"b":3,"i":7,"h":89,"f":89},{"e":100,"b":3,"i":8,"h":89,"f":89},{"e":100,"b":3,"i":9,"h":87,"f":89},{"e":100,"b":3,"i":10,"h":89,"f":89},{"e":100,"b":3,"i":11,"h":89,"f":89},{"e":100,"b":3,"i":12,"h":90,"f":89},{"e":100,"b":3,"i":13,"h":89,"f":89},{"e":100,"b":3,"i":14,"h":89,"f":89},{"e":100,"b":3,"i":15,"h":89,"f":89},{"e":100,"b":3,"i":16,"h":88,"f":89},{"e":100,"b":3,"i":17,"h":89,"f":89},{"e":100,"b":3,"i":18,"h":89,"f":89},{"e":100,"b":3,"i":19,"h":90,"f":90},{"e":100,"b":3,"i":20,"h":91,"f":91},{"e":100,"b":3,"i":21,"h":93,"f":92},{"e":100,"b":3,"i":22,"h":94,"f":93},{"e":100,"b":3,"i":23,"h":95,"f":94},{"e":100,"b":3,"i":24,"h":95,"f":94},
{"e":100,"b":4,"i":0,"h":50,"f":50},{"e":100,"b":4,"i":1,"h":51,"f":51},{"e":100,"b":4,"i":2,"h":53,"f":53},{"e":100,"b":4,"i":3,"h":57,"f":57},{"e":100,"b":4,"i":4,"h":62,"f":62},{"e":100,"b":4,"i":5,"h":67,"f":67},{"e":100,"b":4,"i":6,"h":73,"f":73},{"e":100,"b":4,"i":7,"h":79,"f":79},{"e":100,"b":4,"i":8,"h":84,"f":84},{"e":100,"b":4,"i":9,"h":89,"f":89},{"e":100,"b":4,"i":10,"h":92,"f":92},{"e":100,"b":4,"i":11,"h":94,"f":94},{"e":100,"b":4,"i":12,"h":95,"f":95},{"e":100,"b":4,"i":13,"h":95,"f":94},{"e":100,"b":4,"i":14,"h":92,"f":92},{"e":100,"b":4,"i":15,"h":89,"f":89},{"e":100,"b":4,"i":16,"h":85,"f":84},{"e":100,"b":4,"i":17,"h":79,"f":79},{"e":100,"b":4,"i":18,"h":73,"f":73},{"e":100,"b":4,"i":19,"h":67,"f":67},{"e":100,"b":4,"i":20,"h":62,"f":62},{"e":100,"b":4,"i":21,"h":57,"f":57},{"e":100,"b":4,"i":22,"h":53,"f":53},{"e":100,"b":4,"i":23,"h":51,"f":51},{"e":100,"b":4,"i":24,"h":50,"f":50},
{"e":100,"b":5,"i":0,"h":31,"f":31},{"e":100,"b":5,"i":1,"h":32,"f":32},{"e":100,"b":5,"i":2,"h":35,"f":35},{"e":100,"b":5,"i":3,"h":40,"f":40},{"e":100,"b":5,"i":4,"h":46,"f":46},{"e":100,"b":5,"i":5,"h":54,"f":54},{"e":100,"b":5,"i":6,"h":62,"f":62},{"e":100,"b":5,"i":7,"h":70,"f":70},{"e":100,"b":5,"i":8,"h":79,"f":78},{"e":100,"b":5,"i":9,"h":85,"f":85},{"e":100,"b":5,"i":10,"h":90,"f":90},{"e":100,"b":5,"i":11,"h":94,"f":93},{"e":100,"b":5,"i":12,"h":95,"f":94},{"e":100,"b":5,"i":13,"h":93,"f":93},{"e":100,"b":5,"i":14,"h":90,"f":90},{"e":100,"b":5,"i":15,"h":85,"f":85},{"e":100,"b":5,"i":16,"h":78,"f":78},{"e":100,"b":5,"i":17,"h":70,"f":70},{"e":100,"b":5,"i":18,"h":62,"f":62},{"e":100,"b":5,"i":19,"h":54,"f":54},{"e":100,"b":5,"i":20,"h":46,"f":46},{"e":100,"b":5,"i":21,"h":40,"f":40},{"e":100,"b":5,"i":22,"h":35,"f":35},{"e":100,"b":5,"i":23,"h":32,"f":32},{"e":100,"b":5,"i":24,"h":31,"f":31},
{"e":100,"b":6,"i":0,"h":25,"f":25},{"e":100,"b":6,"i":1,"h":26,"f":26},{"e":100,"b":6,"i":2,"h":29,"f":29},{"e":100,"b":6,"i":3,"h":34,"f":34},{"e":100,"b":6,"i":4,"h":40,"f":40},{"e":100,"b":6,"i":5,"h":48,"f":48},{"e":100,"b":6,"i":6,"h":57,"f":57},{"e":100,"b":6,"i":7,"h":66,"f":66},{"e":100,"b":6,"i":8,"h":75,"f":75},{"e":100,"b":6,"i":9,"h":82,"f":82},{"e":100,"b":6,"i":10,"h":88,"f":88},{"e":100,"b":6,"i":11,"h":92,"f":92},{"e":100,"b":6,"i":12,"h":94,"f":93},{"e":100,"b":6,"i":13,"h":94,"f":92},{"e":100,"b":6,"i":14,"h":88,"f":88},{"e":100,"b":6,"i":15,"h":82,"f":82},{"e":100,"b":6,"i":16,"h":75,"f":75},{"e":100,"b":6,"i":17,"h":66,"f":66},{"e":100,"b":6,"i":18,"h":57,"f":57},{"e":100,"b":6,"i":19,"h":48,"f":48},{"e":100,"b":6,"i":20,"h":40,"f":40},{"e":100,"b":6,"i":21,"h":34,"f":34},{"e":100,"b":6,"i":22,"h":29,"f":29},{"e":100,"b":6,"i":23,"h":26,"f":26},{"e":100,"b":6,"i":24,"h":25,"f":25},
{"e":100,"b":7,"i":0,"h":21,"f":21},{"e":100,"b":7,"i":1,"h":22,"f":22},{"e":100,"b":7,"i":2,"h":27,"f":27},{"e":100,"b":7,"i":3,"h":38,"f":34},{"e":100,"b":7,"i":4,"h":42,"f":42},{"e":100,"b":7,"i":5,"h":51,"f":51},{"e":100,"b":7,"i":6,"h":61,"f":61},{"e":100,"b":7,"i":7,"h":71,"f":70},{"e":100,"b":7,"i":8,"h":79,"f":78},{"e":100,"b":7,"i":9,"h":84,"f":84},{"e":100,"b":7,"i":10,"h":90,"f":89},{"e":100,"b":7,"i":11,"h":93,"f":92},{"e":100,"b":7,"i":12,"h":94,"f":93},{"e":100,"b":7,"i":13,"h":93,"f":92},{"e":100,"b":7,"i":14,"h":89,"f":89},{"e":100,"b":7,"i":15,"h":84,"f":84},{"e":100,"b":7,"i":16,"h":79,"f":78},{"e":100,"b":7,"i":17,"h":71,"f":70},{"e":100,"b":7,"i":18,"h":61,"f":61},{"e":100,"b":7,"i":19,"h":51,"f":51},{"e":100,"b":7,"i":20,"h":42,"f":42},{"e":100,"b":7,"i":21,"h":34,"f":34},{"e":100,"b":7,"i":22,"h":28,"f":27},{"e":100,"b":7,"i":23,"h":23,"f":22},{"e":100,"b":7,"i":24,"h":21,"f":21},
{"e":150,"b":1,"i":0,"h":94,"f":94},{"e":150,"b":1,"i":1,"h":93,"f":93},{"e":150,"b":1,"i":2,"h":92,"f":92},{"e":150,"b":1,"i":3,"h":89,"f":89},{"e":150,"b":1,"i":4,"h":86,"f":86},{"e":150,"b":1,"i":5,"h":82,"f":82},{"e":150,"b":1,"i":6,"h":79,"f":79},{"e":150,"b":1,"i":7,"h":76,"f":76},{"e":150,"b":1,"i":8,"h":73,"f":73},{"e":150,"b":1,"i":9,"h":71,"f":71},{"e":150,"b":1,"i":10,"h":69,"f":69},{"e":150,"b":1,"i":11,"h":68,"f":68},{"e":150,"b":1,"i":12,"h":68,"f":68},{"e":150,"b":1,"i":13,"h":68,"f":68},{"e":150,"b":1,"i":14,"h":69,"f":69},{"e":150,"b":1,"i":15,"h":71,"f":71},{"e":150,"b":1,"i":16,"h":73,"f":73},{"e":150,"b":1,"i":17,"h":76,"f":76},{"e":150,"b":1,"i":18,"h":79,"f":79},{"e":150,"b":1,"i":19,"h":82,"f":82},{"e":150,"b":1,"i":20,"h":86,"f":86},{"e":150,"b":1,"i":21,"h":89,"f":89},{"e":150,"b":1,"i":22,"h":92,"f":92},{"e":150,"b":1,"i":23,"h":93,"f":93},{"e":150,"b":1,"i":24,"h":94,"f":94},
{"e":150,"b":2,"i":0,"h":78,"f":78},{"e":150,"b":2,"i":1,"h":79,"f":78},{"e":150,"b":2,"i":2,"h":80,"f":80},{"e":150,"b":2,"i":3,"h":82,"f":82},{"e":150,"b":2,"i":4,"h":84,"f":84},{"e":150,"b":2,"i":5,"h":87,"f":87},{"e":150,"b":2,"i":6,"h":90,"f":89},{"e":150,"b":2,"i":7,"h":91,"f":91},{"e":150,"b":2,"i":8,"h":92,"f":92},{"e":150,"b":2,"i":9,"h":94,"f":93},{"e":150,"b":2,"i":10,"h":94,"f":94},{"e":150,"b":2,"i":11,"h":94,"f":94},{"e":150,"b":2,"i":12,"h":94,"f":94},{"e":150,"b":2,"i":13,"h":93,"f":94},{"e":150,"b":2,"i":14,"h":94,"f":94},{"e":150,"b":2,"i":15,"h":93,"f":93},{"e":150,"b":2,"i":16,"h":92,"f":92},{"e":150,"b":2,"i":17,"h":90,"f":91},{"e":150,"b":2,"i":18,"h":89,"f":89},{"e":150,"b":2,"i":19,"h":87,"f":87},{"e":150,"b":2,"i":20,"h":85,"f":84},{"e":150,"b":2,"i":21,"h":82,"f":82},{"e":150,"b":2,"i":22,"h":80,"f":80},{"e":150,"b":2,"i":23,"h":78,"f":78},{"e":150,"b":2,"i":24,"h":78,"f":78},
{"e":150,"b":3,"i":0,"h":33,"f":33},{"e":150,"b":3,"i":1,"h":34,"f":34},{"e":150,"b":3,"i":2,"h":37,"f":37},{"e":150,"b":3,"i":3,"h":42,"f":42},{"e":150,"b":3,"i":4,"h":48,"f":48},{"e":150,"b":3,"i":5,"h":55,"f":55},{"e":150,"b":3,"i":6,"h":63,"f":63},{"e":150,"b":3,"i":7,"h":71,"f":71},{"e":150,"b":3,"i":8,"h":79,"f":79},{"e":150,"b":3,"i":9,"h":85,"f":85},{"e":150,"b":3,"i":10,"h":91,"f":91},{"e":150,"b":3,"i":11,"h":94,"f":94},{"e":150,"b":3,"i":12,"h":95,"f":95},{"e":150,"b":3,"i":13,"h":94,"f":94},{"e":150,"b":3,"i":14,"h":91,"f":91},{"e":150,"b":3,"i":15,"h":85,"f":85},{"e":150,"b":3,"i":16,"h":79,"f":79},{"e":150,"b":3,"i":17,"h":71,"f":71},{"e":150,"b":3,"i":18,"h":63,"f":63},{"e":150,"b":3,"i":19,"h":55,"f":55},{"e":150,"b":3,"i":20,"h":48,"f":48},{"e":150,"b":3,"i":21,"h":42,"f":42},{"e":150,"b":3,"i":22,"h":37,"f":37},{"e":150,"b":3,"i":23,"h":34,"f":34},{"e":150,"b":3,"i":24,"h":33,"f":33},
{"e":150,"b":4,"i":0,"h":15,"f":15},{"e":150,"b":4,"i":1,"h":16,"f":16},{"e":150,"b":4,"i":2,"h":19,"f":19},{"e":150,"b":4,"i":3,"h":23,"f":23},{"e":150,"b":4,"i":4,"h":30,"f":30},{"e":150,"b":4,"i":5,"h":38,"f":38},{"e":150,"b":4,"i":6,"h":48,"f":48},{"e":150,"b":4,"i":7,"h":59,"f":59},{"e":150,"b":4,"i":8,"h":69,"f":69},{"e":150,"b":4,"i":9,"h":79,"f":79},{"e":150,"b":4,"i":10,"h":87,"f":87},{"e":150,"b":4,"i":11,"h":92,"f":92},{"e":150,"b":4,"i":12,"h":94,"f":94},{"e":150,"b":4,"i":13,"h":92,"f":92},{"e":150,"b":4,"i":14,"h":87,"f":87},{"e":150,"b":4,"i":15,"h":79,"f":79},{"e":150,"b":4,"i":16,"h":69,"f":69},{"e":150,"b":4,"i":17,"h":59,"f":59},{"e":150,"b":4,"i":18,"h":48,"f":48},{"e":150,"b":4,"i":19,"h":38,"f":38},{"e":150,"b":4,"i":20,"h":30,"f":30},{"e":150,"b":4,"i":21,"h":23,"f":23},{"e":150,"b":4,"i":22,"h":19,"f":19},{"e":150,"b":4,"i":23,"h":16,"f":16},{"e":150,"b":4,"i":24,"h":15,"f":15},
{"e":150,"b":5,"i":0,"h":10,"f":10},{"e":150,"b":5,"i":1,"h":11,"f":11},{"e":150,"b":5,"i":2,"h":13,"f":13},{"e":150,"b":5,"i":3,"h":16,"f":16},{"e":150,"b":5,"i":4,"h":21,"f":21},{"e":150,"b":5,"i":5,"h":29,"f":29},{"e":150,"b":5,"i":6,"h":39,"f":39},{"e":150,"b":5,"i":7,"h":51,"f":51},{"e":150,"b":5,"i":8,"h":63,"f":63},{"e":150,"b":5,"i":9,"h":75,"f":75},{"e":150,"b":5,"i":10,"h":85,"f":85},{"e":150,"b":5,"i":11,"h":92,"f":92},{"e":150,"b":5,"i":12,"h":94,"f":94},{"e":150,"b":5,"i":13,"h":92,"f":92},{"e":150,"b":5,"i":14,"h":85,"f":85},{"e":150,"b":5,"i":15,"h":75,"f":75},{"e":150,"b":5,"i":16,"h":63,"f":63},{"e":150,"b":5,"i":17,"h":51,"f":51},{"e":150,"b":5,"i":18,"h":39,"f":39},{"e":150,"b":5,"i":19,"h":29,"f":29},{"e":150,"b":5,"i":20,"h":21,"f":21},{"e":150,"b":5,"i":21,"h":16,"f":16},{"e":150,"b":5,"i":22,"h":13,"f":13},{"e":150,"b":5,"i":23,"h":11,"f":11},{"e":150,"b":5,"i":24,"h":10,"f":10},
{"e":150,"b":6,"i":0,"h":9,"f":9},{"e":150,"b":6,"i":1,"h":10,"f":10},{"e":150,"b":6,"i":2,"h":11,"f":11},{"e":150,"b":6,"i":3,"h":14,"f":14},{"e":150,"b":6,"i":4,"h":20,"f":20},{"e":150,"b":6,"i":5,"h":27,"f":27},{"e":150,"b":6,"i":6,"h":37,"f":37},{"e":150,"b":6,"i":7,"h":49,"f":49},{"e":150,"b":6,"i":8,"h":62,"f":62},{"e":150,"b":6,"i":9,"h":74,"f":74},{"e":150,"b":6,"i":10,"h":85,"f":85},{"e":150,"b":6,"i":11,"h":92,"f":92},{"e":150,"b":6,"i":12,"h":95,"f":94},{"e":150,"b":6,"i":13,"h":92,"f":92},{"e":150,"b":6,"i":14,"h":86,"f":85},{"e":150,"b":6,"i":15,"h":74,"f":74},{"e":150,"b":6,"i":16,"h":62,"f":62},{"e":150,"b":6,"i":17,"h":49,"f":49},{"e":150,"b":6,"i":18,"h":37,"f":37},{"e":150,"b":6,"i":19,"h":27,"f":27},{"e":150,"b":6,"i":20,"h":20,"f":20},{"e":150,"b":6,"i":21,"h":14,"f":14},{"e":150,"b":6,"i":22,"h":11,"f":11},{"e":150,"b":6,"i":23,"h":10,"f":10},{"e":150,"b":6,"i":24,"h":9,"f":9},
{"e":150,"b":7,"i":0,"h":9,"f":9},{"e":150,"b":7,"i":1,"h":10,"f":10},{"e":150,"b":7,"i":2,"h":11,"f":11},{"e":150,"b":7,"i":3,"h":15,"f":15},{"e":150,"b":7,"i":4,"h":20,"f":20},{"e":150,"b":7,"i":5,"h":29,"f":28},{"e":150,"b":7,"i":6,"h":38,"f":38},{"e":150,"b":7,"i":7,"h":50,"f":50},{"e":150,"b":7,"i":8,"h":62,"f":62},{"e":150,"b":7,"i":9,"h":74,"f":74},{"e":150,"b":7,"i":10,"h":86,"f":84},{"e":150,"b":7,"i":11,"h":91,"f":91},{"e":150,"b":7,"i":12,"h":90,"f":93},{"e":150,"b":7,"i":13,"h":95,"f":91},{"e":150,"b":7,"i":14,"h":84,"f":84},{"e":150,"b":7,"i":15,"h":74,"f":74},{"e":150,"b":7,"i":16,"h":63,"f":62},{"e":150,"b":7,"i":17,"h":50,"f":50},{"e":150,"b":7,"i":18,"h":38,"f":38},{"e":150,"b":7,"i":19,"h":28,"f":28},{"e":150,"b":7,"i":20,"h":20,"f":20},{"e":150,"b":7,"i":21,"h":15,"f":15},{"e":150,"b":7,"i":22,"h":12,"f":11},{"e":150,"b":7,"i":23,"h":10,"f":10},{"e":150,"b":7,"i":24,"h":9,"f":9}
  ]},
  "title": {
    "text": "E/A -->",
    "orient": "left",
    "anchor": "start",
    "font": "Liberation Sans",
    "fontSize": 40,
    "fontWeight": "bold",
    "color": "black",
    "offset": -64
  },
  "hconcat": [{
    "title": {
      "text": "BIN -->",
      "anchor": "start",
      "frame": "bounds",
      "font": "Liberation Sans",
      "fontSize": 40,
      "fontWeight": "bold",
      "color": "black",
      "offset": -46
    },
    "vconcat": [{
      "title": {
        "text": "SQUEEZE",
        "orient": "bottom",
        "anchor": "start",
        "frame": "group",
        "align": "left",
        "dx": 632,
        "font": "Liberation Sans",
        "fontSize": 33,
        "fontWeight": "bold",
        "color": "black",
        "offset": -26
      },
      "vconcat": [{
        "title": {
          "text": "Ψ",
          "orient": "bottom",
          "anchor": "start",
          "frame": "group",
          "align": "left",
          "dx": 590,
          "font": "Liberation Serif",
          "fontSize": 56,
          "fontWeight": "normal",
          "color": "black",
          "offset": 14
        },
        "vconcat": [{
          "title": {
            "text": "EVENTS",
            "orient": "left",
            "anchor": "middle",
            "frame": "bounds",
            "dx": -10,
            "font": "Liberation Sans",
            "fontSize": 25,
            "fontWeight": "bold",
            "color": "black",
            "offset": -126
          },
          "spacing": {"row": 16, "column": 18},
          "facet": {
            "row": {
              "field": "e",
              "type": "ordinal",
              "header": {
                "title": null,
                "labelAngle": 0,
                "labelAlign": "left",
                "labelBaseline": "middle",
                "labelFont": "Liberation Sans",
                "labelFontSize": 48,
                "labelFontWeight": "bold",
                "labelColor": "black",
                "labelPadding": 70
              }
            },
            "column": {
              "field": "b",
              "type": "ordinal",
              "header": {
                "title": null,
                "labelExpr": "['❶','❷','❸','❹','❺','❻','❼'][datum.value - 1]",
                "labelFont": "DejaVu Sans",
                "labelFontSize": 50,
                "labelColor": "black",
                "labelPadding": 9
              }
            }
          },
          "spec": {
            "width": 180,
            "height": 159,
            "encoding": {
              "x": {
                "field": "i",
                "type": "quantitative",
                "scale": {"domain": [0, 24], "nice": false, "zero": false},
                "axis": {
                  "values": [0, 4, 8, 12, 16, 20, 24],
                  "title": null,
                  "zindex": 1,
                  "domain": false,
                  "ticks": false,
                  "labelExpr": "datum.value == 0 ? '0' : datum.value == 12 ? 'π/2' : datum.value == 24 ? 'π' : ''",
                  "labelFont": "Liberation Sans",
                  "labelFontSize": 33,
                  "labelFontWeight": "bold",
                  "labelColor": "black",
                  "labelFlush": true,
                  "labelFlushOffset": 7,
                  "labelOverlap": false,
                  "labelPadding": 6,
                  "grid": true,
                  "gridColor": "black",
                  "gridOpacity": 1,
                  "gridWidth": 1.6,
                  "gridDash": {"condition": {"test": "datum.value % 12 === 0", "value": [9, 150]}, "value": [5, 154]},
                  "gridDashOffset": {"condition": {"test": "datum.value % 12 === 0", "value": 9}, "value": 5}
                }
              }
            },
            "layer": [
              {
                "mark": {"type": "area", "interpolate": "step", "color": "#cad3ef", "opacity": 1, "clip": true},
                "encoding": {
                  "y": {
                    "field": "h",
                    "type": "quantitative",
                    "scale": {"domain": [0, 100], "nice": false},
                    "axis": null
                  }
                }
              },
              {
                "mark": {"type": "line", "interpolate": "step", "color": "black", "strokeWidth": 1.5, "clip": true},
                "encoding": {"y": {"field": "h", "type": "quantitative", "axis": null}}
              },
              {
                "mark": {"type": "line", "interpolate": "monotone", "color": "#ff0000", "strokeWidth": 4.5, "clip": true},
                "encoding": {"y": {"field": "f", "type": "quantitative", "axis": null}}
              }
            ]
          }
        }]
      }]
    }]
  }]
}
